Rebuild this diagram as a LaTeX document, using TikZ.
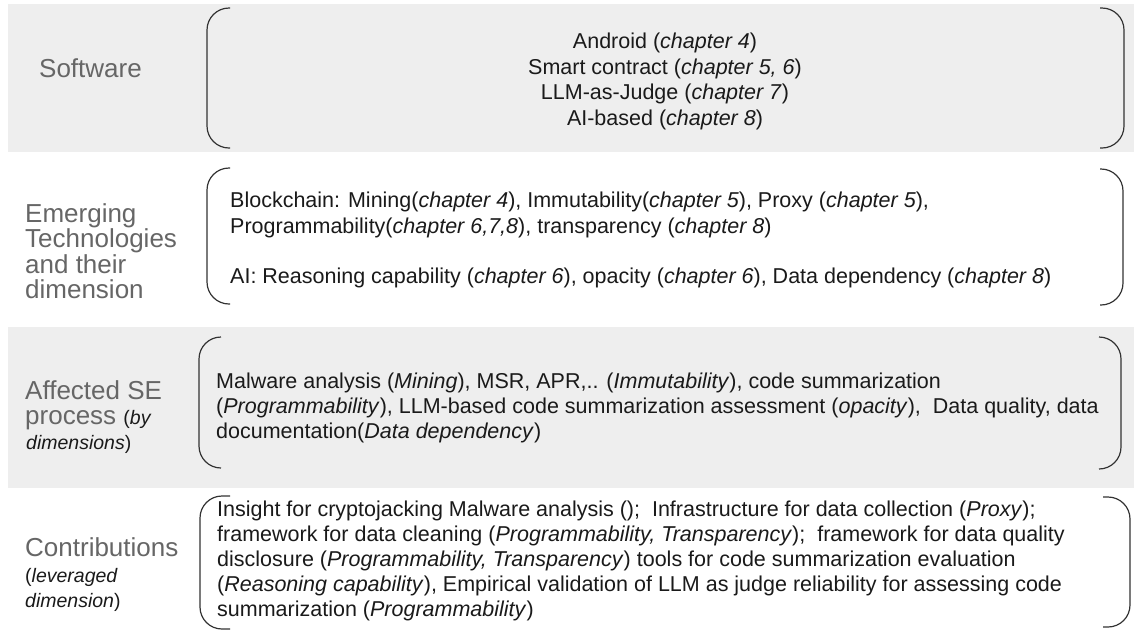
\documentclass[tikz,border=0pt]{standalone}
\usepackage{fontspec}
\setmainfont{Liberation Sans}
\definecolor{bandgray}{HTML}{EEEEEE}
\definecolor{labelgray}{HTML}{666666}
\definecolor{brk}{HTML}{333333}
\definecolor{bodyink}{HTML}{1A1A1A}
\begin{document}
\begin{tikzpicture}[x=1pt,y=-1pt,
  body/.style={anchor=base west, inner sep=0pt, font=\fontsize{21.5}{25}\selectfont, text=bodyink},
  bodyc/.style={anchor=base, inner sep=0pt, font=\fontsize{21.5}{25}\selectfont, text=bodyink},
  lbl/.style={anchor=base west, inner sep=0pt, font=\fontsize{26}{25}\selectfont, text=labelgray},
  sublbl/.style={anchor=base west, inner sep=0pt, font=\fontsize{19.5}{24}\selectfont, text=bodyink},
  brace/.style={draw=brk, line width=1.2pt, rounded corners=22pt},
]
\useasboundingbox (0,0) rectangle (1134,633);
\fill[white] (0,0) rectangle (1134,633);
\fill[bandgray] (8,4) rectangle (1134,152);
\fill[bandgray] (8,327) rectangle (1134,488);

% brackets
\draw[brace] (230,8) -- (207,8) -- (207,148) -- (230,148);
\draw[brace] (1100,8) -- (1124,8) -- (1124,148) -- (1100,148);
\draw[brace] (230,168) -- (207,168) -- (207,304) -- (230,304);
\draw[brace] (1100,169) -- (1123,169) -- (1123,305) -- (1100,305);
\draw[brace] (221,337) -- (199,337) -- (199,468) -- (221,468);
\draw[brace] (1099,337) -- (1121,337) -- (1121,469) -- (1099,469);
\draw[brace] (230,496) -- (200,496) -- (200,629) -- (230,629);
\draw[brace] (1103,497) -- (1130,497) -- (1130,627) -- (1103,627);

% left labels
\node[lbl] (sw) at (39,77) {Software};
\node[lbl] (em1) at (25,222) {Emerging};
\node[lbl] (em2) at (25,247.5) {Technologies};
\node[lbl] (em3) at (25,273) {and their};
\node[lbl] (em4) at (25,298.5) {dimension};
\node[lbl] (af1) at (25,399) {Affected SE};
\node[lbl] (af2) at (25,424) {process {\fontsize{19.5}{24}\selectfont\color{bodyink}(\textit{by}}};
\node[sublbl] (af3) at (26,449) {\textit{dimensions})};
\node[lbl] (co1) at (25,556) {Contributions};
\node[sublbl] (co2) at (25,582) {(\textit{leveraged}};
\node[sublbl] (co3) at (25,607) {\textit{dimension})};

% band 1
\node[bodyc] (s1) at (665,48) {Android (\textit{chapter 4})};
\node[bodyc] (s2) at (665,74) {Smart contract (\textit{chapter 5, 6})};
\node[bodyc] (s3) at (665,99.5) {LLM-as-Judge (\textit{chapter 7})};
\node[bodyc] (s4) at (665,125) {AI-based (\textit{chapter 8})};

% band 2
\node[body] (t1) at (230,207) {Blockchain: Mining(\textit{chapter 4}), Immutability(\textit{chapter 5}), Proxy (\textit{chapter 5}),};
\node[body] (t2) at (230,233) {Programmability(\textit{chapter 6,7,8}), transparency (\textit{chapter 8})};
\node[body] (t3) at (230,283) {AI: Reasoning capability (\textit{chapter 6}), opacity (\textit{chapter 6}), Data dependency (\textit{chapter 8})};

% band 3
\node[body] (p1) at (216,388) {Malware analysis (\textit{Mining}), MSR, APR,.. (\textit{Immutability}), code summarization};
\node[body] (p2) at (216,413) {(\textit{Programmability}), LLM-based code summarization assessment (\textit{opacity}),\ \ Data quality, data};
\node[body] (p3) at (216,438) {documentation(\textit{Data dependency})};

% band 4
\node[body] (c1) at (217,516) {Insight for cryptojacking Malware analysis ();\ \ Infrastructure for data collection (\textit{Proxy});};
\node[body] (c2) at (217,541) {framework for data cleaning (\textit{Programmability, Transparency});\ \ framework for data quality};
\node[body] (c3) at (217,566) {disclosure (\textit{Programmability, Transparency}) tools for code summarization evaluation};
\node[body] (c4) at (217,591) {(\textit{Reasoning capability}), Empirical validation of LLM as judge reliability for assessing code};
\node[body] (c5) at (217,616) {summarization (\textit{Programmability})};
\end{tikzpicture}
\end{document}
